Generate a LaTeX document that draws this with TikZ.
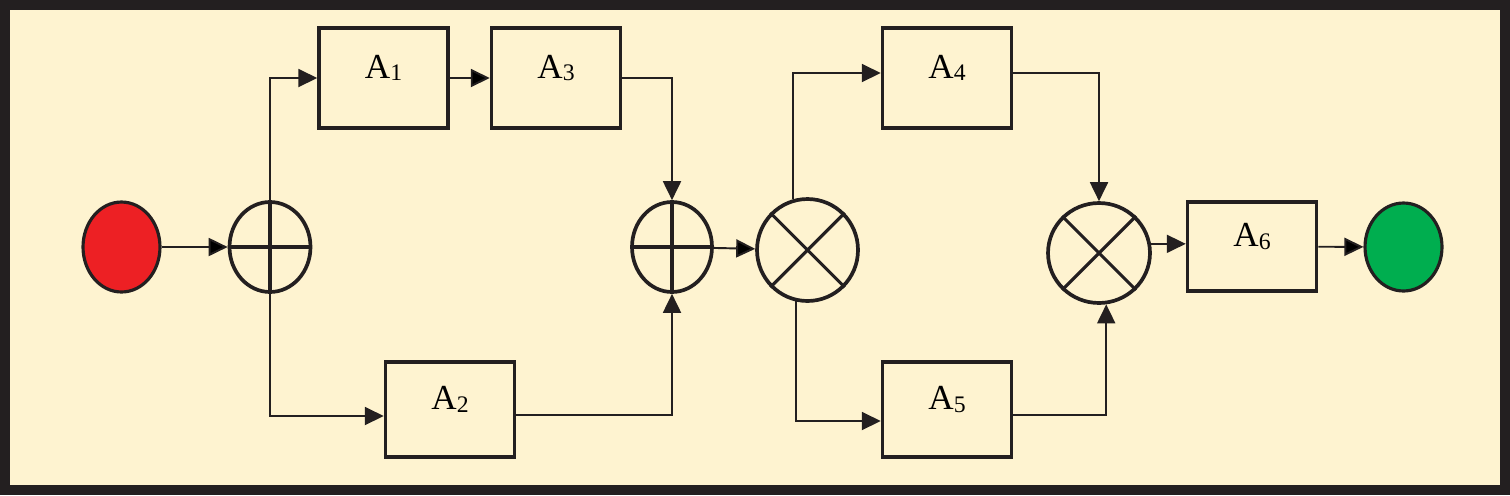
\documentclass[tikz,border=0pt]{standalone}
\usepackage{fontspec}
\setmainfont{Liberation Serif}
\usepackage{tikz}
\usetikzlibrary{arrows.meta}
\usetikzlibrary{calc}
\usetikzlibrary{shapes.geometric}

\definecolor{frame}{HTML}{231F20}
\definecolor{cream}{HTML}{FEF3D0}
\definecolor{startred}{HTML}{ED2024}
\definecolor{endgreen}{HTML}{00AE4F}

\newcommand{\actlabel}[1]{A\raisebox{-1.7pt}{\fontsize{13.5}{13.5}\selectfont #1}}

\tikzset{
  act/.style={draw=frame,line width=2pt,rectangle,minimum width=2.58cm,
    font=\fontsize{20}{24}\selectfont,inner sep=0pt,text height=0pt,text depth=0pt},
  gate/.style={draw=frame,line width=2.1pt,ellipse,inner sep=0pt},
  event/.style={draw=frame,line width=1.8pt,ellipse,inner sep=0pt,
    minimum width=1.54cm,minimum height=1.8cm},
  conn/.style={draw=frame,line width=1.1pt,-{Triangle[length=0.38cm,width=0.36cm]}},
  wire/.style={draw=frame,line width=1.1pt}
}

\begin{document}
\begin{tikzpicture}[x=0.02cm,y=-0.02cm]

  \fill [frame] (0,0) rectangle (1510,495);
  \fill [cream] (10,10) rectangle (1500,485);

  \node [event,fill=startred] (start) at (121.5,247) {};
  \node [event,fill=endgreen,minimum height=1.76cm] (finish) at (1403.5,247) {};

  \node [gate,minimum width=1.62cm,minimum height=1.8cm] (or_split) at (270,247) {};
  \node [gate,minimum width=1.6cm,minimum height=1.8cm] (or_join) at (672,247) {};
  \node [gate,minimum width=2.02cm,minimum height=2.04cm] (and_split) at (807.5,250) {};
  \node [gate,minimum width=2.04cm,minimum height=2cm] (and_join) at (1099,253) {};

  \foreach \g in {or_split,or_join}
    \draw [frame,line width=1.8pt] (\g.north) -- (\g.south) (\g.west) -- (\g.east);
  \foreach \g in {and_split,and_join}
    \draw [frame,line width=1.8pt] (\g.45) -- (\g.225) (\g.135) -- (\g.315);

  \node [act,minimum height=2cm] (a1) at (383.5,78) {\actlabel{1}};
  \node [act,minimum height=2cm] (a3) at (556,78) {\actlabel{3}};
  \node [act,minimum height=1.9cm] (a2) at (450,409.5) {\actlabel{2}};
  \node [act,minimum height=2cm] (a4) at (947,78) {\actlabel{4}};
  \node [act,minimum height=1.9cm] (a5) at (947,409.5) {\actlabel{5}};
  \node [act,minimum height=1.78cm] (a6) at (1252,246.5) {\actlabel{6}};

  \path [conn]
    (start)    edge (or_split)
    (a1)       edge (a3)
    (or_join)  edge (and_split)
    (a6)       edge (finish);

  \draw [conn] (or_split.north) |- (a1.west);
  \draw [conn] (or_split.south) |- ([yshift=-0.13cm]a2.west);
  \draw [conn] (a3.east) -| (or_join.north);
  \draw [conn] ([yshift=-0.11cm]a2.east) -| (or_join.south);

  \draw [conn] (and_split.106) |- ([yshift=0.1cm]a4.west);
  \draw [conn] (and_split.257) |- ([yshift=-0.23cm]a5.west);
  \draw [conn] ([yshift=0.1cm]a4.east) -| (and_join.north);
  \draw [conn] ([yshift=-0.11cm]a5.east) -| (and_join.278);
  \draw [conn] (and_join.10) -- (and_join.10 -| a6.west);

\end{tikzpicture}
\end{document}
